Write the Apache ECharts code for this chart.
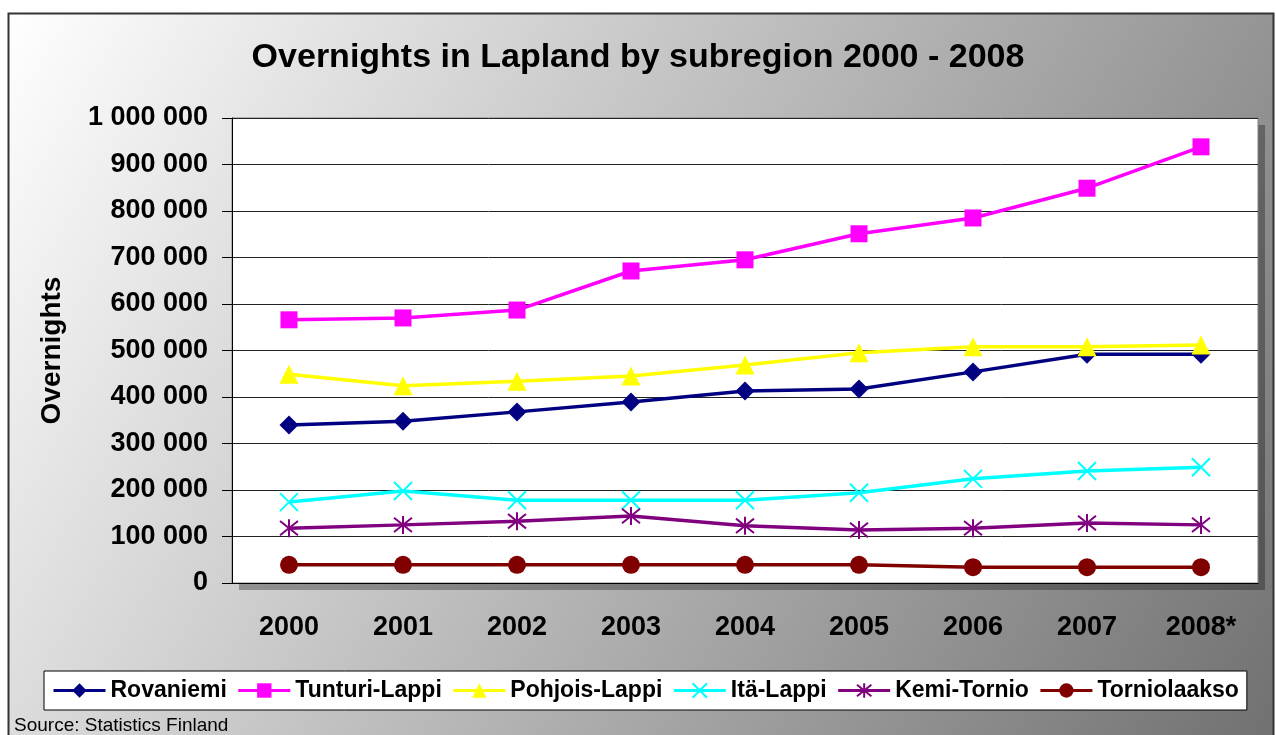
<!DOCTYPE html>
<html>
<head>
<meta charset="utf-8">
<script src="https://cdn.jsdelivr.net/npm/echarts@6/dist/echarts.min.js"></script>
<style>
  html, body { margin: 0; padding: 0; background: #fff; }
  #main { width: 1276px; height: 735px; }
</style>
</head>
<body>
<div id="main"></div>
<script>
var years = ['2000', '2001', '2002', '2003', '2004', '2005', '2006', '2007', '2008*']
var rovaniemi = [340000, 348000, 368000, 389000, 413000, 417000, 454000, 492000, 492000]
var tunturiLappi = [566000, 570000, 587000, 671000, 695000, 751000, 785000, 849000, 938000]
var pohjoisLappi = [449000, 424000, 434000, 445000, 469000, 495000, 508000, 508000, 512000]
var itaLappi = [174000, 198000, 178000, 178000, 178000, 194000, 224000, 241000, 249000]
var kemiTornio = [118000, 125000, 133000, 144000, 123000, 114000, 118000, 129000, 125000]
var torniolaakso = [39000, 39000, 39000, 39000, 39000, 39000, 34000, 34000, 34000]

var font = 'Liberation Sans, Arial, sans-serif'

function spaced(v) {
  return String(v).replace(/\B(?=(\d{3})+(?!\d))/g, ' ')
}

function line(name, data, color, symbol, size, hollow) {
  return {
    name: name,
    type: 'line',
    data: data,
    symbol: symbol,
    symbolSize: size,
    color: color,
    lineStyle: { color: color, width: 3.5 },
    itemStyle: hollow
      ? { color: 'rgba(0,0,0,0)', borderColor: color, borderWidth: 2 }
      : { color: color },
    emphasis: { disabled: true },
    animation: false
  }
}

var chart = echarts.init(document.getElementById('main'))
chart.setOption({
  animation: false,
  graphic: [
    {
      type: 'rect',
      z: -10,
      shape: { x: 8.5, y: 13.5, width: 1265, height: 740 },
      style: {
        fill: new echarts.graphic.LinearGradient(0, 0, 1, 1, [
          { offset: 0, color: '#ffffff' },
          { offset: 1, color: '#707070' }
        ]),
        stroke: '#333',
        lineWidth: 2
      }
    },
    {
      // plot-area drop shadow
      type: 'rect',
      z: -5,
      shape: { x: 239, y: 125, width: 1026, height: 465 },
      style: { fill: 'rgba(0,0,0,0.3)' }
    },
    {
      type: 'text',
      left: 14,
      top: 716,
      style: { text: 'Source: Statistics Finland', font: '19px ' + font, fill: '#000' }
    }
  ],
  title: {
    text: 'Overnights in Lapland by subregion 2000 - 2008',
    left: 'center',
    top: 36,
    textStyle: { fontFamily: font, fontSize: 34, fontWeight: 'bold', color: '#000' }
  },
  grid: {
    left: 232, top: 118, right: 18, bottom: 152,
    show: true,
    backgroundColor: '#fff',
    borderColor: '#808080',
    borderWidth: 1
  },
  legend: {
    left: 44,
    top: 671,
    orient: 'horizontal',
    backgroundColor: '#fff',
    borderColor: '#000',
    borderWidth: 1,
    padding: [8, 8, 8, 8],
    itemWidth: 52,
    itemHeight: 18,
    itemGap: 10,
    lineStyle: { width: 3 },
    textStyle: { fontFamily: font, fontSize: 23, fontWeight: 'bold', color: '#000' }
  },
  xAxis: {
    type: 'category',
    data: years,
    boundaryGap: true,
    axisLine: { lineStyle: { color: '#000', width: 1 } },
    axisTick: { length: 9, lineStyle: { color: '#000' } },
    axisLabel: { margin: 31, fontFamily: font, fontSize: 27, fontWeight: 'bold', color: '#000' }
  },
  yAxis: {
    type: 'value',
    min: 0,
    max: 1000000,
    interval: 100000,
    name: 'Overnights',
    nameLocation: 'middle',
    nameGap: 166,
    nameTextStyle: { fontFamily: font, fontSize: 28, fontWeight: 'bold', color: '#000' },
    axisLine: { show: true, lineStyle: { color: '#000', width: 1 } },
    axisTick: { show: true, length: 10, lineStyle: { color: '#000' } },
    splitLine: { lineStyle: { color: '#222', width: 1 } },
    axisLabel: {
      margin: 24,
      fontFamily: font, fontSize: 27, fontWeight: 'bold', color: '#000',
      formatter: spaced
    }
  },
  series: [
    line('Rovaniemi', rovaniemi, '#000080', 'diamond', 19),
    line('Tunturi-Lappi', tunturiLappi, '#ff00ff', 'rect', 17),
    line('Pohjois-Lappi', pohjoisLappi, '#ffff00', 'triangle', 19),
    line('Itä-Lappi', itaLappi, '#00ffff', 'path://M0,0L16,16M16,0L0,16', 18, true),
    line('Kemi-Tornio', kemiTornio, '#800080', 'path://M0,0L16,16M16,0L0,16M8,-2L8,18', 18, true),
    line('Torniolaakso', torniolaakso, '#800000', 'circle', 18)
  ]
})
</script>
</body>
</html>
